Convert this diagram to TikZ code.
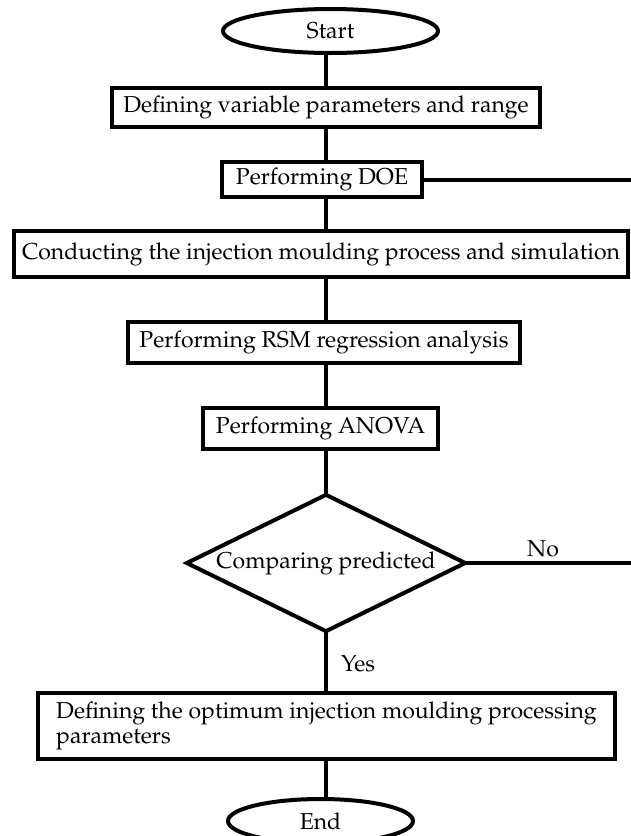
\documentclass[tikz,border=0pt]{standalone}
\usepackage[T1]{fontenc}
\usepackage{mathpazo}
\usetikzlibrary{shapes.geometric}
\tikzset{
  flow/.style={line width=4pt, line cap=rect},
  procbox/.style={draw, line width=4pt, rectangle, inner sep=0pt, fill=white},
  term/.style={draw, line width=4pt, ellipse, inner sep=0pt, fill=white},
  decide/.style={draw, line width=4pt, diamond, inner sep=0pt, aspect=2, fill=white},
  lbl/.style={inner sep=0pt}
}
\begin{document}
\begin{tikzpicture}[x=1pt,y=-1pt,font=\fontsize{23}{24.5}\selectfont]
\useasboundingbox (0,0) rectangle (630,836);
\coordinate (spine) at (326,0);
\node[term, minimum width=215pt, minimum height=44pt] (start) at (330.5,31) {Start};
\node[procbox, minimum width=428pt, minimum height=39pt] (b1) at (326,107.5) {Defining variable parameters and range};
\node[procbox, minimum width=200pt, minimum height=35pt] (b2) at (322,179.5) {Performing DOE};
\node[procbox, minimum width=614pt, minimum height=46pt] (b3) at (321,254) {Conducting the injection moulding process and simulation};
\node[procbox, minimum width=392pt, minimum height=41pt] (b4) at (324,342.5) {Performing RSM regression analysis};
\node[procbox, minimum width=235pt, minimum height=41pt] (b5) at (320.5,428.5) {Performing ANOVA};
\node[decide, minimum width=280pt, minimum height=138pt] (dia) at (326,563) {Comparing predicted};
\node[procbox, minimum width=577pt, minimum height=66pt, align=left] (b6) at (326.5,726) {Defining the optimum injection moulding processing\\parameters};
\node[term, minimum width=185pt, minimum height=44pt] (end) at (320.5,821) {End};
\coordinate (doeR) at (632,179.5);
\coordinate (noR) at (632,563);
\node[lbl] (no) at (543,549) {No};
\node[lbl] (yes) at (358,664) {Yes};
\draw[flow] (start.south -| spine) -- (b1.north -| spine);
\draw[flow] (b1.south -| spine) -- (b2.north -| spine);
\draw[flow] (b2.south -| spine) -- (b3.north -| spine);
\draw[flow] (b3.south -| spine) -- (b4.north -| spine);
\draw[flow] (b4.south -| spine) -- (b5.north -| spine);
\draw[flow] (b5.south -| spine) -- (dia.north);
\draw[flow] (dia.south) -- (b6.north -| spine);
\draw[flow] (b6.south -| spine) -- (end.north -| spine);
\draw[flow] (b2.east) -- (doeR);
\draw[flow] (dia.east) -- (noR);
\end{tikzpicture}
\end{document}
